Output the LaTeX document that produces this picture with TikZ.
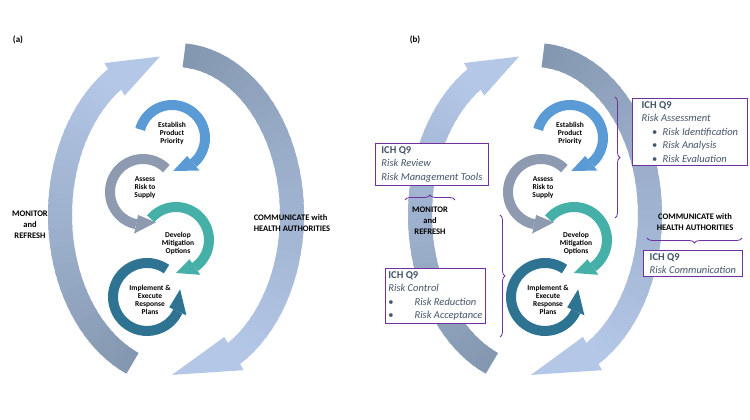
\documentclass[tikz,border=0pt]{standalone}
\usepackage{fontspec}
\setmainfont{Carlito}
\usetikzlibrary{decorations.pathreplacing}
\definecolor{ringdark}{HTML}{8497B0}
\definecolor{ringlight}{HTML}{B4C7E7}
\definecolor{estblue}{HTML}{5B9BD5}
\definecolor{assgray}{HTML}{8E9AAF}
\definecolor{devteal}{HTML}{45B0A8}
\definecolor{impteal}{HTML}{2F7392}
\definecolor{boxpurple}{HTML}{7030A0}
\definecolor{ichtext}{HTML}{44546A}
% #1 cx, #2 cy, #3 r_x, #4 r_y, #5 width, #6 head base, #7 tip, #8 colour, #9 overhang
\newcommand\arrowhead[9]{%
  \fill[#8,shift={(#1,#2)}] (#6:{#3+#9*#5} and {#4+#9*#5})
    -- (#7:#3 and #4) -- (#6:{#3-#9*#5} and {#4-#9*#5}) -- cycle;
}
\newcommand\bigarrow[8]{% cx cy rx ry w start base tip ; dark->light
  \foreach \i in {0,...,39}{%
    \pgfmathsetmacro\aa{#6+(#7-#6)*\i/40}%
    \pgfmathsetmacro\bb{#6+(#7-#6)*(\i+1.4)/40}%
    \pgfmathtruncatemacro\pp{100-\i*100/39}%
    \draw[line width=#5pt,ringdark!\pp!ringlight] (#1,#2) ++(\aa:#3 and #4)
      arc[start angle=\aa,end angle=\bb,x radius=#3,y radius=#4];
  }%
  \arrowhead{#1}{#2}{#3}{#4}{#5}{#7}{#8}{ringlight}{0.8}%
}
\newcommand\smallarrow[7]{% cx cy r start base tip colour
  \draw[line width=10pt,#7] (#1,#2) ++(#4:#3) arc[start angle=#4,end angle=#5,radius=#3];
  \arrowhead{#1}{#2}{#3}{#3}{10}{#5}{#6}{#7}{0.95}%
}
\tikzset{
  steplabel/.style={font=\fontsize{7.5}{8}\selectfont\bfseries, align=center, inner sep=0pt},
  phaselabel/.style={font=\fontsize{8.5}{11}\selectfont\bfseries, align=center, inner sep=0pt},
  ichbox/.style={draw=boxpurple, line width=0.8pt, fill=white, align=left,
    font=\fontsize{10.5}{13.5}\selectfont, text=ichtext, inner sep=3pt, anchor=north west},
  ichbrace/.style={draw=boxpurple, line width=0.8pt, decorate,
    decoration={brace, amplitude=5pt}},
}
\newcommand\ichhead{\textcolor{ichtext}{\bfseries ICH Q9}}
\begin{document}
\begin{tikzpicture}[x=1pt,y=1pt]
  \useasboundingbox (0,0) rectangle (750,420);
  \fill[white] (0,0) rectangle (750,420);

  % ---- panel (a)
  \node[font=\bfseries\small] (labela) at (18,380) {(a)};
  \bigarrow{176}{205}{116}{160}{24}{248}{122}{98}
  \bigarrow{176}{205}{116}{160}{24}{86}{-60}{-92}
  \smallarrow{172}{282}{33}{165}{-50}{-88}{estblue}
  \smallarrow{143}{228}{33}{45}{258}{293}{assgray}
  \smallarrow{176}{180}{33}{140}{-55}{-90}{devteal}
  \smallarrow{147}{123}{34}{55}{335}{373}{impteal}
  \node[steplabel] (esta) at (172,287) {Establish\\Product\\Priority};
  \node[steplabel] (assa) at (145,232) {Assess\\Risk to\\Supply};
  \node[steplabel] (deva) at (178,177) {Develop\\Mitigation\\Options};
  \node[steplabel] (impa) at (150,120) {Implement \&\\Execute\\Response\\Plans};
  \node[phaselabel] (mona) at (30,195) {MONITOR\\and\\REFRESH};
  \node[phaselabel, align=left] (coma) at (292,197) {COMMUNICATE with\\HEALTH AUTHORITIES};

  % ---- panel (b)
  \node[font=\bfseries\small] (labelb) at (415,380) {(b)};
  \bigarrow{535}{205}{115}{160}{24}{248}{122}{98}
  \bigarrow{535}{205}{115}{160}{24}{86}{-60}{-92}
  \smallarrow{570}{282}{33}{165}{-50}{-88}{estblue}
  \smallarrow{541}{228}{33}{45}{258}{293}{assgray}
  \smallarrow{574}{180}{33}{140}{-55}{-90}{devteal}
  \smallarrow{545}{123}{34}{55}{335}{373}{impteal}
  \node[steplabel] (estb) at (570,287) {Establish\\Product\\Priority};
  \node[steplabel] (assb) at (543,232) {Assess\\Risk to\\Supply};
  \node[steplabel] (devb) at (576,177) {Develop\\Mitigation\\Options};
  \node[steplabel] (impb) at (548,120) {Implement \&\\Execute\\Response\\Plans};
  \node[phaselabel] (monb) at (430,199) {MONITOR\\and\\REFRESH};
  \node[phaselabel] (comb) at (695,198) {COMMUNICATE with\\HEALTH AUTHORITIES};

  \node[ichbox, minimum width=115pt] (assess) at (632,322)
    {\ichhead\\\itshape Risk Assessment\\
     \quad\textbullet\enspace\itshape Risk Identification\\
     \quad\textbullet\enspace\itshape Risk Analysis\\
     \quad\textbullet\enspace\itshape Risk Evaluation};
  \node[ichbox, minimum width=113pt] (review) at (375,277)
    {\ichhead\\\itshape Risk Review\\\itshape Risk Management Tools};
  \node[ichbox, minimum width=98pt] (control) at (385,152)
    {\ichhead\\\itshape Risk Control\\
     \textbullet\qquad\itshape Risk Reduction\\
     \textbullet\qquad\itshape Risk Acceptance};
  \node[ichbox, minimum width=99pt] (commun) at (643,170)
    {\ichhead\\\itshape Risk Communication};

  \coordinate (bra1) at (615,323);
  \coordinate (bra2) at (615,202);
  \coordinate (brb1) at (500,205);
  \coordinate (brb2) at (500,83);
  \coordinate (brc1) at (405,220);
  \coordinate (brc2) at (455,220);
  \coordinate (brd1) at (742,182);
  \coordinate (brd2) at (647,182);
  \draw[ichbrace] (bra1) -- (bra2);
  \draw[ichbrace] (brb1) -- (brb2);
  \draw[ichbrace] (brc1) -- (brc2);
  \draw[ichbrace] (brd1) -- (brd2);
\end{tikzpicture}
\end{document}
